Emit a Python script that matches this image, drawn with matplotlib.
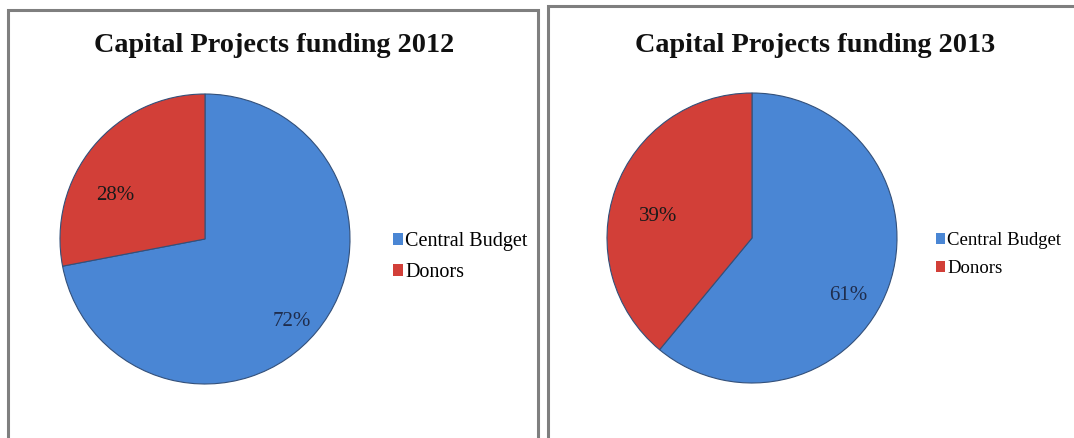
import matplotlib
matplotlib.use("Agg")
import matplotlib.pyplot as plt
from matplotlib.patches import Rectangle, Patch

# --- data ---
categories = ['Central Budget', 'Donors']
share_2012 = [72, 28]
share_2013 = [61, 39]
titles = ['Capital Projects funding 2012', 'Capital Projects funding 2013']

BLUE = '#4a86d4'
RED = '#d23f38'
W, H = 1074, 438

plt.rcParams['font.family'] = ['Liberation Serif', 'DejaVu Serif']
fig = plt.figure(figsize=(W / 100, H / 100), dpi=100)
fig.patch.set_facecolor('white')


def px(x, y, w, h):
    # pixel box (top-left origin) -> figure fraction
    return [x / W, 1 - (y + h) / H, w / W, h / H]


# panel frames
for x0, y0, x1 in [(8, 10, 538), (548, 6, 1090)]:
    fig.patches.append(Rectangle((x0 / W, -0.1), (x1 - x0) / W, 1 - y0 / H + 0.1,
                                 transform=fig.transFigure, fill=False,
                                 edgecolor='#7f7f7f', lw=2.2, clip_on=False))

# label nudges (Excel "best fit" placement)
panels = [
    dict(vals=share_2012, title=titles[0], cx=205, cy=239, r=145, tx=274, ty=46,
         lx=393, ly=248, lfs=14.5, offs=[(0.0, -0.075), (-0.02, -0.2)]),
    dict(vals=share_2013, title=titles[1], cx=752, cy=238, r=145, tx=815, ty=46,
         lx=936, ly=248, lfs=13.5, offs=[(-0.072, -0.129), (0.086, -0.119)]),
]

for p in panels:
    r = p['r']
    ax = fig.add_axes(px(p['cx'] - r, p['cy'] - r, 2 * r, 2 * r))
    wedges, texts, autotexts = ax.pie(
        p['vals'], colors=[BLUE, RED], startangle=90, counterclock=False,
        autopct='%d%%', pctdistance=0.78,
        wedgeprops=dict(edgecolor='#33507a', linewidth=0.8),
        textprops=dict(fontsize=15))
    autotexts[0].set_color('#1f2d4d')
    autotexts[1].set_color('#1a1a1a')
    for t, (dx, dy) in zip(autotexts, p['offs']):
        x, y = t.get_position()
        t.set_position((x + dx, y + dy))
    ax.set_xlim(-1, 1)
    ax.set_ylim(-1, 1)
    ax.set_aspect('equal')
    ax.axis('off')

    fig.text(p['tx'] / W, 1 - p['ty'] / H, p['title'], ha='center', va='center',
             fontsize=20.3, fontweight='bold', color='#111111')

    handles = [Patch(facecolor=c, edgecolor='none') for c in [BLUE, RED]]
    fig.legend(handles, categories, loc='upper left',
               bbox_to_anchor=(p['lx'] / W, 1 - (p['ly'] - 16) / H),
               frameon=False, fontsize=p['lfs'], handlelength=0.5, handleheight=0.5,
               handletextpad=0.1, labelspacing=0.6, borderaxespad=0, borderpad=0)

fig.savefig('out.png', dpi=100, facecolor='white')
